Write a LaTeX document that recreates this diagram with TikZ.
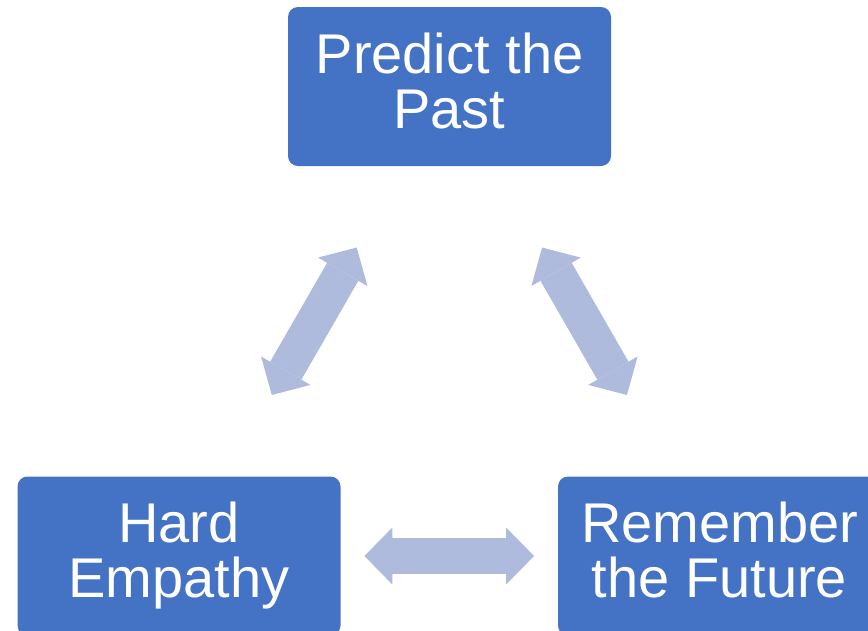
\documentclass[tikz,border=0pt]{standalone}
\usepackage{fontspec}
\setmainfont{Liberation Sans}
\usetikzlibrary{arrows.meta,calc}

\definecolor{boxblue}{RGB}{68,114,196}
\definecolor{linkblue}{RGB}{174,187,221}

\tikzset{
  idea/.style={fill=boxblue,rounded corners=10pt,minimum width=323pt,minimum height=159pt,
    inner sep=0pt,align=center,text=white,text depth=12pt,font=\fontsize{56}{55}\selectfont},
  fat/.tip={Triangle[length=28pt,width=57pt,line width=0pt]},
  link/.style={linkblue,line width=36pt,fat-fat}
}

\begin{document}
\begin{tikzpicture}[x=1pt,y=-1pt]
\useasboundingbox (0,0) rectangle (868,630);

% boxes
\node[idea] (past)    at (449.5,86.5) {Predict the\\Past};
\node[idea] (empathy) at (179,556)    {Hard\\Empathy};
\node[idea] (future)  at (719.5,556)  {Remember\\the Future};

% double arrows
\draw[link] ($(empathy)!0.343!(past)$)   -- ($(empathy)!0.657!(past)$);
\draw[link] ($(past)!0.343!(future)$)    -- ($(past)!0.657!(future)$);
\draw[link] ($(empathy)!0.343!(future)$) -- ($(empathy)!0.657!(future)$);

\end{tikzpicture}
\end{document}
